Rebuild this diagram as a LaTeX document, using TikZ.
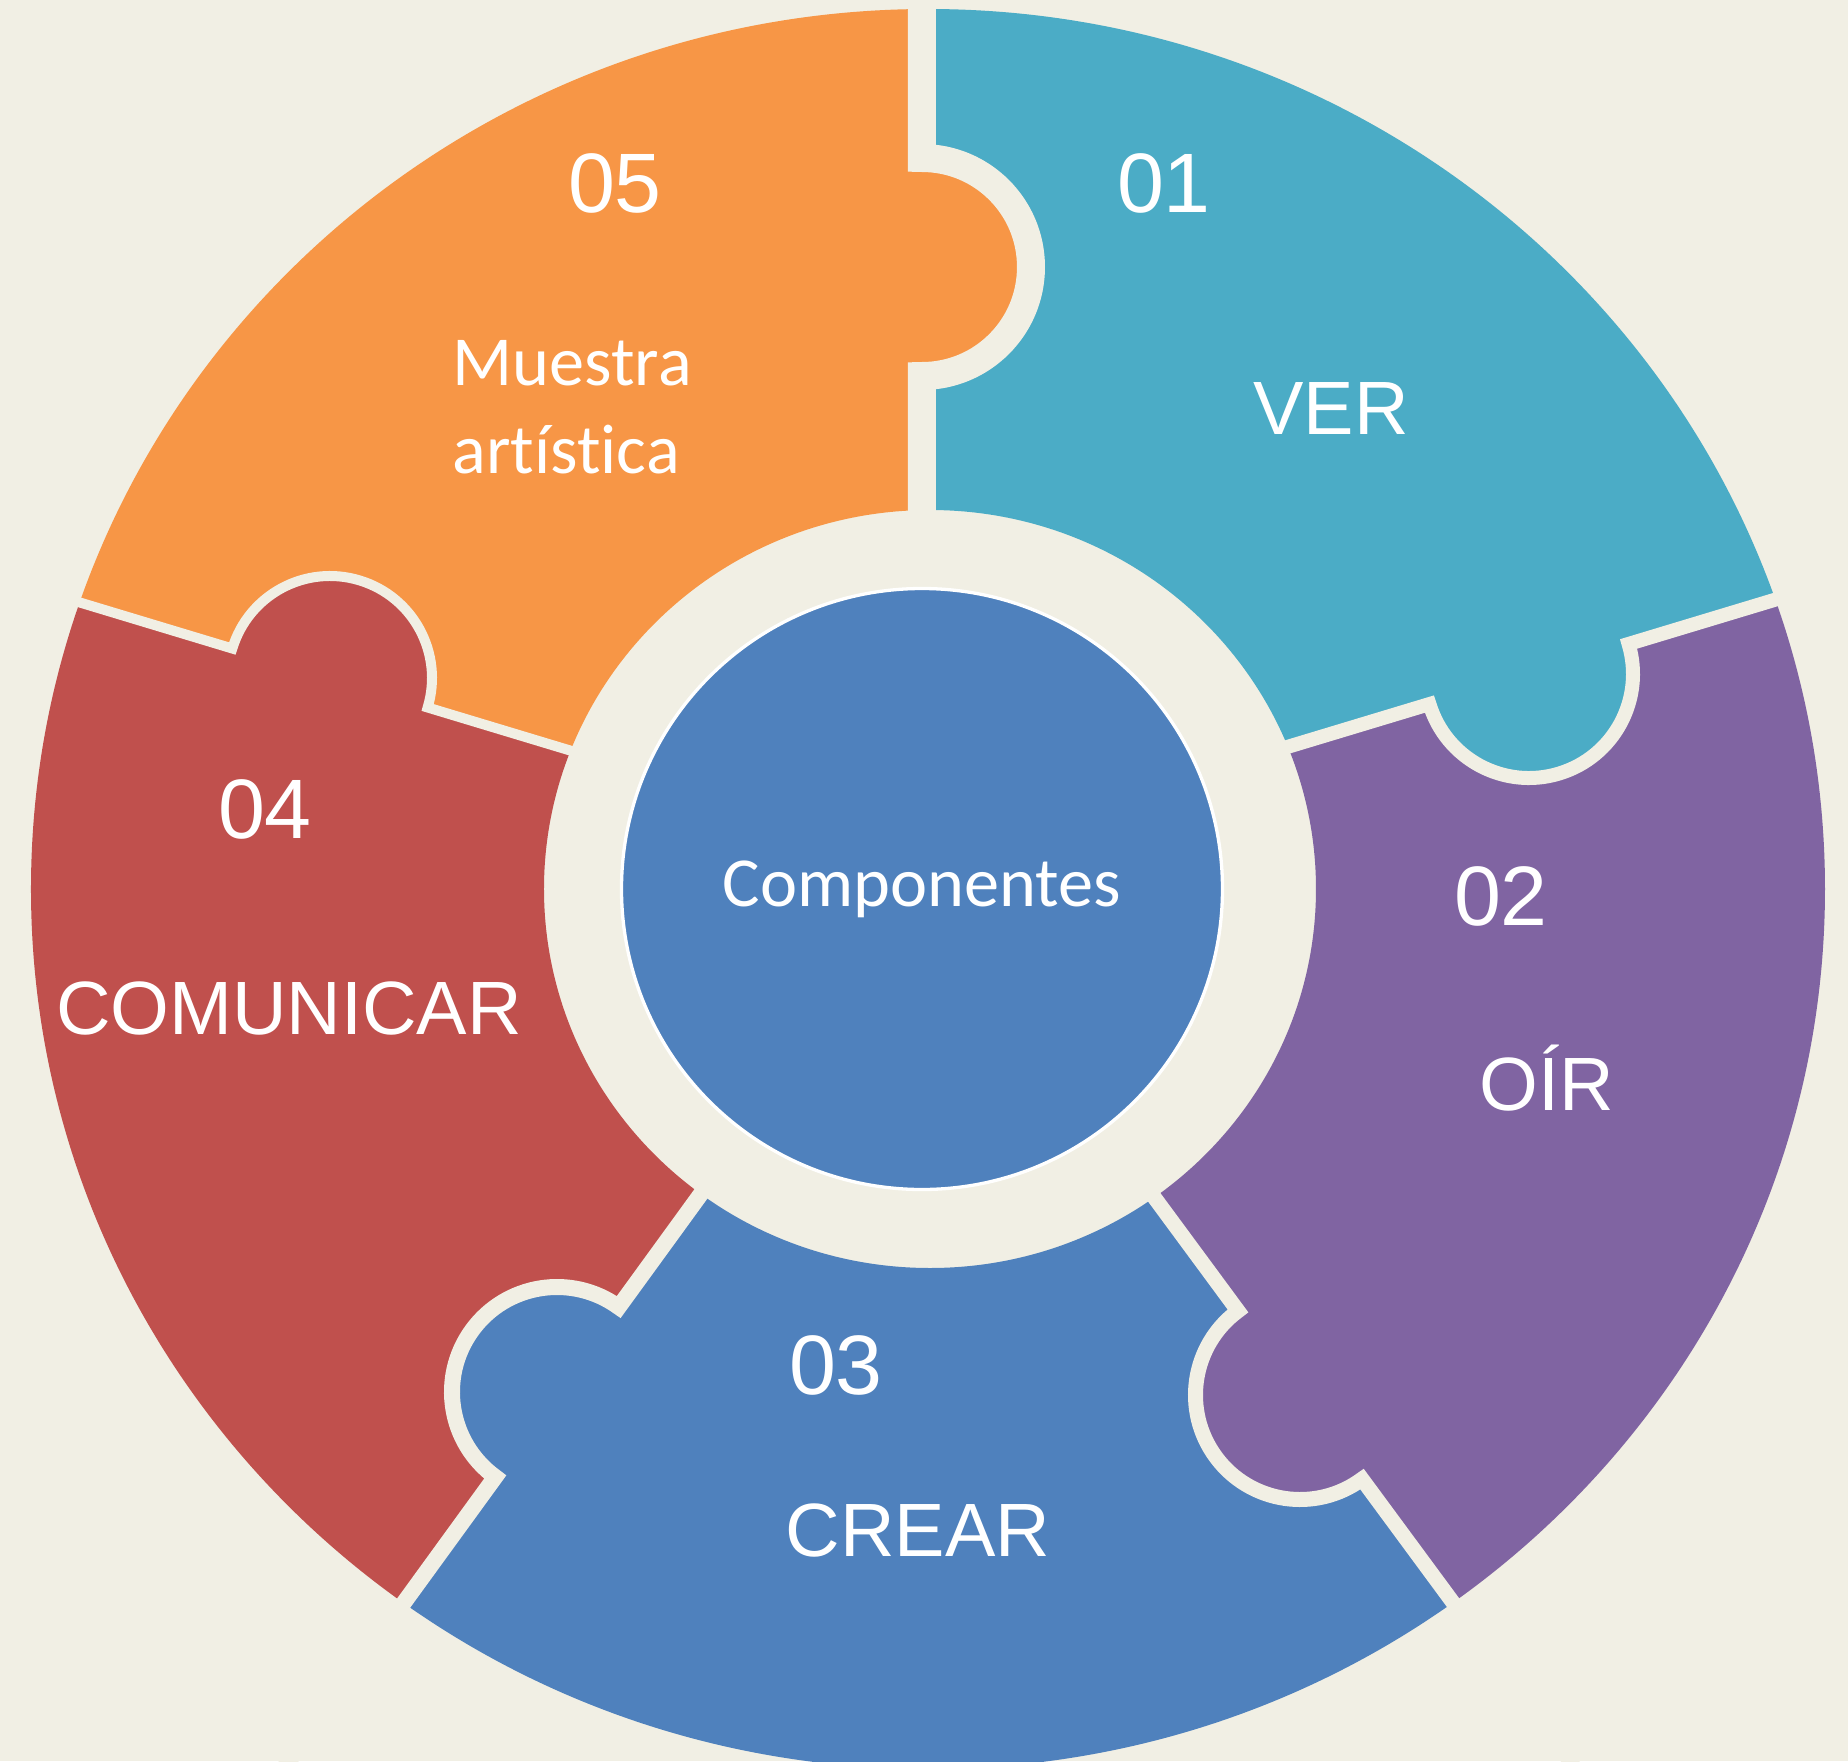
\documentclass[tikz,border=0pt]{standalone}
\usepackage{fontspec}
\usetikzlibrary{calc}
\newfontfamily\arialfont{Liberation Sans}
\newfontfamily\calibrifont[Ligatures={NoCommon,NoContextual}]{Carlito}

\definecolor{bgcream}{HTML}{F1EFE4}
\definecolor{tealpiece}{HTML}{4BACC6}
\definecolor{purplepiece}{HTML}{8064A2}
\definecolor{bluepiece}{HTML}{4F81BD}
\definecolor{redpiece}{HTML}{C0504D}
\definecolor{orangepiece}{HTML}{F79646}

\tikzset{
  gapline/.style={draw=bgcream, line width=#1*0.1mm},
  numlabel/.style={text=white, anchor=base, inner sep=0pt,
    font=\arialfont\fontsize{24}{28}\selectfont},
  namelabel/.style={text=white, anchor=base, inner sep=0pt,
    font=\arialfont\fontsize{21.5}{26}\selectfont},
  hub/.style={circle, fill=bluepiece, draw=white, line width=0.33mm,
    minimum size=60.1mm, inner sep=0pt, text=white,
    font=\calibrifont\fontsize{20}{24}\selectfont}
}

\begin{document}
\begin{tikzpicture}[x=0.1mm, y=0.1mm]
\useasboundingbox (-922,-872) rectangle (926,889);
\fill[bgcream] (-922,-872) rectangle (926,889);

% joints between the pieces: name/x/y/direction/gap/tab radius/colour of the tab
\foreach \nm/\ax/\ay/\dir/\g/\rk/\giver in {
    b90/0/622/90/28/95/orangepiece,
    b18/607/215/16.8/14/97/tealpiece,
    bm54/378/-506/-53.6/15/97/purplepiece,
    bm126/-365/-503/-126/16/97/bluepiece,
    b162/-592/211/163.2/10/97/redpiece} {
  \coordinate (\nm) at (\ax,\ay);
  \coordinate (\nm-in) at ($(\ax,\ay)+(\dir:-420)$);
  \coordinate (\nm-out) at ($(\ax,\ay)+(\dir:650)$);
}

% ring pieces
\foreach \from/\to/\mid/\col in {
    b90/b18/54/tealpiece,
    b18/bm54/-18/purplepiece,
    bm54/bm126/-90/bluepiece,
    bm126/b162/-162/redpiece,
    b162/b90/126/orangepiece} {
  \begin{scope}
    \clip (\from-out) -- (\from-in) -- (\to-in) -- (\to-out) -- (\mid:2200) -- cycle;
    \fill[\col, even odd rule] (6,0) ellipse (897 and 880) (8,0) ellipse (386 and 379);
  \end{scope}
}

% tabs and the cuts round them
\foreach \nm/\dir/\g/\rk/\giver in {
    b90/90/28/95/orangepiece,
    b18/16.8/14/97/tealpiece,
    bm54/-53.6/15/97/purplepiece,
    bm126/-126/16/97/bluepiece,
    b162/163.2/10/97/redpiece} {
  \pgfmathsetmacro{\h}{\rk+\g/2}
  \fill[\giver] (\nm) circle (\h);
  \begin{scope}[shift={(\nm)}, rotate=\dir]
    \draw[gapline=\g] (-450,0) -- (-\h,0) arc[start angle=180, end angle=360, radius=\h] -- (700,0);
  \end{scope}
}

\node[hub] (core) at (0,0) {Componentes};

\node[numlabel] (n01) at (242,677) {01};
\node[namelabel] (ver) at (409,455) {VER};
\node[numlabel] (n02) at (579,-36) {02};
\node[namelabel] (oir) at (625,-221) {OÍR};
\node[numlabel] (n03) at (-86,-505) {03};
\node[namelabel] (crear) at (-4,-667) {CREAR};
\node[numlabel] (n04) at (-657,51) {04};
\node[namelabel] (comunicar) at (-633,-145) {COMUNICAR};
\node[numlabel] (n05) at (-307,677) {05};
\node[text=white, inner sep=0pt, align=left, anchor=base west,
  font=\calibrifont\fontsize{20}{25}\selectfont] (muestra) at (-470,416) {Muestra\\artística};
\end{tikzpicture}
\end{document}
